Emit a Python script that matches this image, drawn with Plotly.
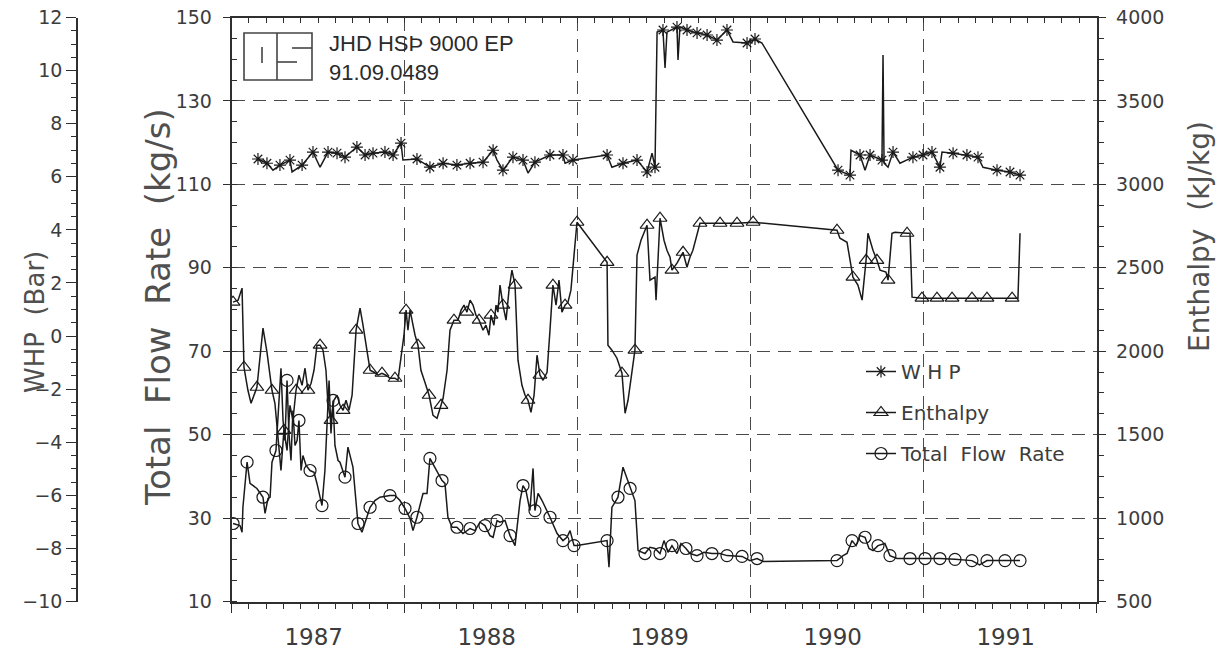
import plotly.graph_objects as go

# ---------------- data ----------------
years = [1987, 1988, 1989, 1990, 1991]

whp_year = [
    1987.153, 1987.205, 1987.240, 1987.280, 1987.338, 1987.350, 1987.408, 1987.442,
    1987.471, 1987.512, 1987.558, 1987.610, 1987.656, 1987.725, 1987.772, 1987.818,
    1987.887, 1987.934, 1987.980, 1987.991, 1988.072, 1988.147, 1988.223, 1988.303,
    1988.379, 1988.454, 1988.512, 1988.535, 1988.569, 1988.627, 1988.685, 1988.714,
    1988.754, 1988.841, 1988.916, 1988.928, 1988.974, 1989.171, 1989.199, 1989.263,
    1989.344, 1989.402, 1989.431, 1989.448, 1989.460, 1989.494, 1989.506, 1989.517,
    1989.575, 1989.581, 1989.592, 1989.633, 1989.691, 1989.749, 1989.806, 1989.864,
    1989.899, 1989.980, 1990.026, 1990.066, 1990.506, 1990.575, 1990.581, 1990.633,
    1990.662, 1990.691, 1990.760, 1990.766, 1990.772, 1990.795, 1990.824, 1990.864,
    1990.939, 1990.997, 1991.049, 1991.095, 1991.107, 1991.171, 1991.251, 1991.315,
    1991.344, 1991.425, 1991.500, 1991.558,
]
whp_bar = [
    6.67, 6.51, 6.25, 6.44, 6.63, 6.18, 6.44, 6.70,
    6.93, 6.36, 6.93, 6.89, 6.74, 7.12, 6.82, 6.89,
    6.93, 6.82, 7.27, 6.63, 6.67, 6.36, 6.51, 6.44,
    6.51, 6.55, 7.00, 6.63, 6.25, 6.74, 6.63, 6.14,
    6.55, 6.82, 6.82, 6.51, 6.63, 6.82, 6.36, 6.51,
    6.63, 6.18, 6.89, 6.36, 11.45, 11.53, 10.10, 11.45,
    11.64, 10.40, 11.64, 11.53, 11.42, 11.34, 11.15, 11.53,
    11.08, 11.04, 11.19, 11.04, 6.25, 6.06, 7.00, 6.82,
    6.25, 6.82, 6.63, 10.59, 6.51, 6.36, 6.93, 6.51,
    6.74, 6.82, 6.93, 6.36, 6.93, 6.89, 6.82, 6.74,
    6.36, 6.25, 6.18, 6.06,
]

enth_year = [
    1987.009, 1987.038, 1987.061, 1987.072, 1987.095, 1987.113, 1987.147, 1987.182,
    1987.205, 1987.234, 1987.251, 1987.269, 1987.286, 1987.303, 1987.321, 1987.338,
    1987.355, 1987.373, 1987.390, 1987.408, 1987.425, 1987.442, 1987.460, 1987.477,
    1987.494, 1987.512, 1987.529, 1987.546, 1987.558, 1987.575, 1987.592, 1987.610,
    1987.627, 1987.645, 1987.662, 1987.679, 1987.697, 1987.720, 1987.743, 1987.760,
    1987.777, 1987.801, 1987.824, 1987.847, 1987.870, 1987.893, 1987.916, 1987.945,
    1987.962, 1987.980, 1987.997, 1988.009, 1988.020, 1988.032, 1988.043, 1988.061,
    1988.078, 1988.095, 1988.118, 1988.142, 1988.165, 1988.188, 1988.211, 1988.223,
    1988.246, 1988.263, 1988.286, 1988.309, 1988.327, 1988.344, 1988.361, 1988.379,
    1988.396, 1988.413, 1988.431, 1988.454, 1988.471, 1988.488, 1988.500, 1988.517,
    1988.529, 1988.540, 1988.552, 1988.569, 1988.587, 1988.604, 1988.621, 1988.639,
    1988.656, 1988.679, 1988.697, 1988.714, 1988.731, 1988.749, 1988.766, 1988.783,
    1988.801, 1988.824, 1988.841, 1988.858, 1988.876, 1988.893, 1988.910, 1988.928,
    1988.945, 1988.962, 1988.980, 1988.997, 1989.171, 1989.176, 1989.199, 1989.228,
    1989.257, 1989.275, 1989.292, 1989.315, 1989.332, 1989.344, 1989.367, 1989.402,
    1989.419, 1989.448, 1989.454, 1989.477, 1989.500, 1989.517, 1989.535, 1989.546,
    1989.575, 1989.610, 1989.633, 1989.650, 1989.667, 1989.708, 1989.737, 1989.824,
    1989.922, 1990.015, 1990.500, 1990.517, 1990.558, 1990.592, 1990.621, 1990.645,
    1990.668, 1990.679, 1990.708, 1990.731, 1990.749, 1990.783, 1990.795, 1990.818,
    1990.835, 1990.905, 1990.922, 1990.934, 1990.991, 1991.078, 1991.165, 1991.280,
    1991.367, 1991.512, 1991.546, 1991.558,
]
enth_kjkg = [
    2294, 2306, 2378, 1904, 1766, 1688, 1784, 2138,
    1994, 1766, 1688, 1466, 1286, 1526, 1406, 1676,
    1586, 1766, 1856, 1796, 1898, 1766, 1808, 1886,
    2036, 2036, 2006, 1886, 1676, 1586, 1706, 1736,
    1676, 1646, 1706, 1646, 1736, 2126, 2258, 2156,
    2036, 1886, 1874, 1856, 1868, 1856, 1838, 1838,
    1826, 1976, 2096, 2246, 2126, 2246, 2186, 2096,
    2036, 1886, 1814, 1736, 1616, 1598, 1676, 1718,
    1886, 2126, 2186, 2186, 2246, 2276, 2234, 2306,
    2276, 2216, 2186, 2126, 2156, 2096, 2216, 2156,
    2276, 2234, 2396, 2276, 2186, 2366, 2486, 2396,
    1946, 1796, 1736, 1706, 1634, 1736, 1976, 1856,
    1826, 1874, 2126, 2396, 2276, 2426, 2234, 2276,
    2294, 2366, 2576, 2773, 2533, 2036, 2006, 1958,
    1868, 1628, 1706, 1886, 2006, 2576, 2665, 2755,
    2426, 2444, 2306, 2797, 2665, 2605, 2563, 2486,
    2528, 2593, 2503, 2563, 2605, 2767, 2767, 2767,
    2767, 2773, 2725, 2677, 2653, 2444, 2396, 2306,
    2545, 2707, 2605, 2545, 2486, 2474, 2426, 2707,
    2713, 2707, 2707, 2324, 2318, 2318, 2318, 2318,
    2318, 2318, 2318, 2707,
]

flow_year = [
    1987.009, 1987.049, 1987.061, 1987.066, 1987.090, 1987.107, 1987.147, 1987.182,
    1987.194, 1987.211, 1987.223, 1987.234, 1987.257, 1987.275, 1987.286, 1987.298,
    1987.309, 1987.321, 1987.332, 1987.344, 1987.355, 1987.367, 1987.379, 1987.390,
    1987.402, 1987.413, 1987.431, 1987.454, 1987.477, 1987.494, 1987.523, 1987.540,
    1987.552, 1987.564, 1987.575, 1987.587, 1987.598, 1987.616, 1987.627, 1987.656,
    1987.673, 1987.702, 1987.731, 1987.754, 1987.801, 1987.829, 1987.858, 1987.916,
    1987.945, 1987.974, 1988.003, 1988.032, 1988.049, 1988.072, 1988.107, 1988.130,
    1988.147, 1988.176, 1988.217, 1988.234, 1988.251, 1988.275, 1988.303, 1988.338,
    1988.379, 1988.408, 1988.436, 1988.465, 1988.494, 1988.512, 1988.535, 1988.552,
    1988.581, 1988.610, 1988.639, 1988.668, 1988.685, 1988.702, 1988.725, 1988.743,
    1988.754, 1988.772, 1988.795, 1988.841, 1988.882, 1988.916, 1988.939, 1988.957,
    1988.980, 1988.997, 1989.171, 1989.182, 1989.199, 1989.205, 1989.234, 1989.263,
    1989.280, 1989.304, 1989.332, 1989.350, 1989.390, 1989.419, 1989.448, 1989.477,
    1989.500, 1989.523, 1989.546, 1989.575, 1989.598, 1989.627, 1989.650, 1989.691,
    1989.731, 1989.777, 1989.824, 1989.864, 1989.910, 1989.951, 1989.997, 1990.038,
    1990.072, 1990.500, 1990.535, 1990.558, 1990.587, 1990.610, 1990.633, 1990.662,
    1990.685, 1990.708, 1990.737, 1990.777, 1990.806, 1990.847, 1990.922, 1991.009,
    1991.095, 1991.182, 1991.280, 1991.324, 1991.367, 1991.471, 1991.529, 1991.558,
]
flow_kgs = [
    28.7, 28.2, 26.6, 32.6, 43.4, 38.3, 37.1, 35.0,
    31.1, 34.7, 35.0, 43.4, 46.2, 58.2, 65.9, 53.4,
    48.6, 63.0, 50.3, 43.8, 55.8, 47.4, 48.6, 53.4,
    41.4, 45.0, 42.6, 41.4, 41.0, 38.3, 33.0, 41.4,
    54.2, 63.0, 50.3, 58.2, 47.4, 43.8, 43.4, 39.8,
    47.0, 42.2, 28.7, 26.6, 32.6, 34.2, 35.0, 35.4,
    35.4, 34.2, 32.3, 29.9, 27.0, 30.2, 35.9, 35.9,
    44.3, 42.2, 39.0, 38.3, 30.2, 27.8, 27.8, 26.3,
    27.5, 27.0, 29.0, 28.2, 25.8, 25.4, 29.4, 29.0,
    29.4, 25.8, 23.4, 34.2, 37.8, 36.6, 31.8, 41.9,
    31.8, 35.9, 34.2, 30.2, 26.3, 24.6, 25.4, 27.0,
    23.4, 23.4, 24.6, 18.2, 32.6, 33.0, 35.0, 42.2,
    40.2, 37.1, 34.2, 22.2, 21.5, 23.0, 22.7, 21.5,
    24.6, 21.8, 23.4, 21.5, 23.9, 22.7, 21.5, 21.0,
    21.8, 21.5, 21.5, 21.0, 20.8, 20.8, 19.8, 20.3,
    19.6, 19.8, 21.0, 21.5, 24.6, 23.4, 25.8, 25.4,
    22.7, 22.2, 23.4, 23.9, 21.0, 20.3, 20.3, 20.3,
    20.3, 20.1, 19.8, 18.8, 19.8, 19.8, 19.8, 19.8,
]

# ---------------- styling ----------------
W, H = 1228, 654
INK = "#1a1a1a"
CLEAR = "rgba(0,0,0,0)"
AXIS = "#2f2f2f"
TXT = "#3c3c3c"
TITLE = "#505050"
GRID = "#4a4a4a"
DASH = "13px,8px"
FONT = "DejaVu Sans"


def px(x):
    return x / W


def py(y):
    return 1 - y / H


XD = [px(231.5), px(1096.5)]
YD = [py(601.5), py(17.5)]


def marker_colors(xs, gap):
    """Show a symbol on a point whenever it is at least `gap` years past the last shown one."""
    out, last = [], -1e9
    for x in xs:
        if x - last >= gap:
            out.append(INK)
            last = x
        else:
            out.append(CLEAR)
    return out


def series(x, y, name, axis, group, symbol, size, gap):
    return go.Scatter(
        x=x, y=y, name=name, yaxis=axis, legendgroup=group,
        mode="lines+markers", line=dict(color=INK, width=1.5),
        marker=dict(symbol=symbol, size=size, color=marker_colors(x, gap),
                    line=dict(width=1.2)),
    )


fig = go.Figure()
fig.add_trace(series(whp_year, whp_bar, "W H P", "y2", "a", "asterisk-open", 10, 0.045))
fig.add_trace(series(enth_year, enth_kjkg, "Enthalpy", "y3", "b", "triangle-up-open", 12, 0.06))
fig.add_trace(series(flow_year, flow_kgs, "Total  Flow  Rate", "y", "c", "circle-open", 12, 0.06))

# empty traces so the top frame axis and the year-boundary axis get drawn
for xa in ("x2", "x3"):
    fig.add_trace(go.Scatter(x=[], y=[], xaxis=xa, yaxis="y", showlegend=False,
                             hoverinfo="skip"))

common_y = dict(zeroline=False, showline=True, linecolor=AXIS, linewidth=1.5,
                automargin=False, tickcolor=AXIS, tickwidth=1.3,
                tickfont=dict(family=FONT, size=19, color=TXT))

fig.update_layout(
    template="none",
    width=W, height=H, autosize=False,
    margin=dict(l=0, r=0, t=0, b=0, pad=0),
    paper_bgcolor="white", plot_bgcolor="white",
    font=dict(family=FONT, color=TXT),
    xaxis=dict(
        domain=XD, range=[1987, 1992], anchor="y", automargin=False,
        tickmode="array", tickvals=[y + 0.475 for y in years], ticktext=[str(y) for y in years],
        ticks="", showgrid=False, zeroline=False,
        showline=True, linecolor=AXIS, linewidth=1.5,
        tickfont=dict(family=FONT, size=23, color=TXT), ticklabelstandoff=14,
        minor=dict(tickmode="linear", tick0=1987, dtick=0.1, ticks="outside",
                   ticklen=6, tickwidth=1.2, tickcolor=AXIS, showgrid=False),
    ),
    xaxis2=dict(
        overlaying="x", anchor="y", side="top", range=[1987, 1992], automargin=False,
        tickmode="linear", tick0=1987, dtick=0.1, ticks="inside", ticklen=6,
        tickwidth=1.2, tickcolor=AXIS, showticklabels=False,
        showline=True, linecolor=AXIS, linewidth=1.5, showgrid=False, zeroline=False,
    ),
    xaxis3=dict(
        overlaying="x", anchor="y", side="bottom", range=[1987, 1992], automargin=False,
        tickmode="array", tickvals=years + [1992], ticks="outside", ticklen=10,
        tickwidth=1.4, tickcolor=AXIS, showticklabels=False, showline=False,
        showgrid=True, gridcolor=GRID, gridwidth=1.4, griddash=DASH, zeroline=False,
    ),
    yaxis=dict(
        domain=YD, range=[10, 150], anchor="x",
        tickmode="linear", tick0=10, dtick=20, ticks="outside", ticklen=7,
        showgrid=True, gridcolor=GRID, gridwidth=1.4, griddash=DASH,
        ticklabelstandoff=7,
        minor=dict(tickmode="linear", tick0=10, dtick=5, ticks="inside", ticklen=6,
                   tickwidth=1.2, tickcolor=AXIS, showgrid=False),
        **common_y,
    ),
    yaxis2=dict(
        overlaying="y", anchor="free", position=px(77), side="left",
        range=[-10, 12], tickmode="linear", tick0=-10, dtick=2,
        ticks="outside", ticklen=10, showgrid=False, ticklabelstandoff=0,
        minor=dict(tickmode="linear", tick0=-10, dtick=0.5, ticks="outside", ticklen=5,
                   tickwidth=1.2, tickcolor=AXIS, showgrid=False),
        **common_y,
    ),
    yaxis3=dict(
        overlaying="y", anchor="x", side="right",
        range=[500, 4000], tickmode="linear", tick0=500, dtick=500,
        ticks="outside", ticklen=8, showgrid=False, ticklabelstandoff=6,
        minor=dict(tickmode="linear", tick0=500, dtick=125, ticks="outside", ticklen=6,
                   tickwidth=1.2, tickcolor=AXIS, showgrid=False),
        **common_y,
    ),
    legend=dict(
        x=px(861), y=py(352), xanchor="left", yanchor="top",
        bgcolor=CLEAR, borderwidth=0, itemsizing="trace",
        tracegroupgap=12, font=dict(family=FONT, size=20, color=TXT),
    ),
    showlegend=True,
)

# axis titles
titles = [
    ("WHP  (Bar)", 35, 322, 26),
    ("Total  Flow  Rate  (kg/s)", 158, 307, 34),
    ("Enthalpy  (kJ/kg)", 1200, 237, 28),
]
for text, x, y, size in titles:
    fig.add_annotation(text=text, x=px(x), y=py(y), xref="paper", yref="paper",
                       showarrow=False, textangle=-90, xanchor="center", yanchor="middle",
                       font=dict(family=FONT, size=size, color=TITLE))

# well id block with logo
for text, y in (("JHD HSÞ 9000 EP", 44), ("91.09.0489", 72)):
    fig.add_annotation(text=text, x=px(327), y=py(y), xref="paper", yref="paper",
                       showarrow=False, xanchor="left", yanchor="middle",
                       font=dict(family="Liberation Sans", size=22, color="#2a2a2a"))

logo = dict(xref="paper", yref="paper", line=dict(color="#444", width=1.6))
fig.add_shape(type="rect", x0=px(244), x1=px(312), y0=py(33), y1=py(80), **logo)
for (x0, y0, x1, y1) in [(277, 33, 277, 80), (262, 47, 262, 63),
                         (292, 48, 312, 48), (277, 62, 297, 62)]:
    fig.add_shape(type="line", x0=px(x0), y0=py(y0), x1=px(x1), y1=py(y1), **logo)

fig.write_html("out.html")
